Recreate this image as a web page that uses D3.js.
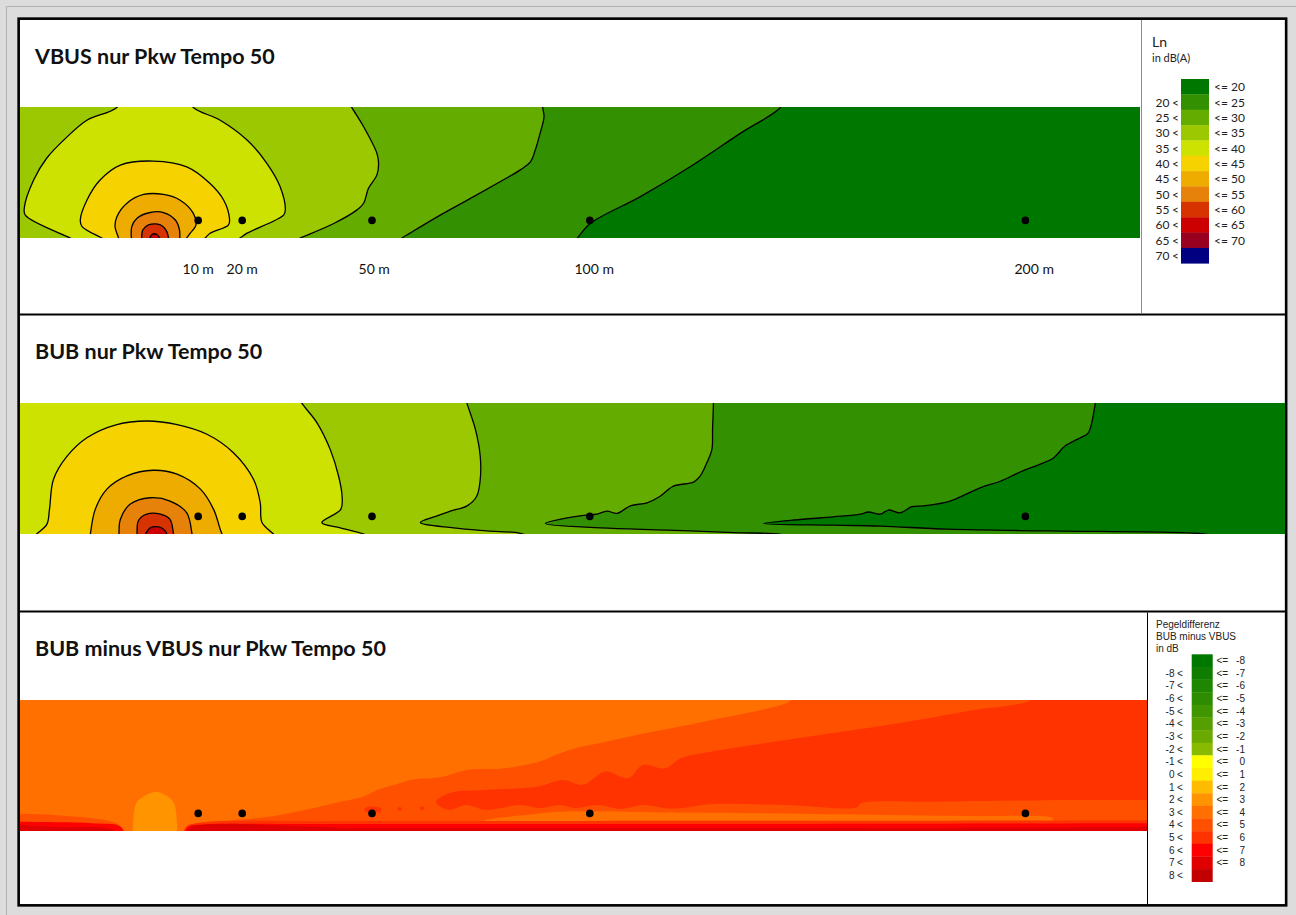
<!DOCTYPE html>
<html>
<head>
<meta charset="utf-8">
<script src="https://cdn.jsdelivr.net/npm/d3@7"></script>
<style>
  body { margin: 0; background: #dcdcdc; }
  svg { display: block; }
</style>
</head>
<body>
<svg id="chart" width="1296" height="915"></svg>
<script>
// ---- data: distances and heights in metres, levels in dB ----
const receivers = [10, 20, 49.5, 99, 198];
const receiverHeight = 4;
const distLabels = [10, 20, 50, 100, 200];

const lnThresholds = [20, 25, 30, 35, 40, 45, 50, 55, 60, 65, 70];
const lnColors = ["#007800", "#339000", "#64ad00", "#9bc800", "#cde200", "#f5d200",
                  "#eeab00", "#e6820a", "#d73300", "#cc0000", "#990020", "#000080"];

const diffThresholds = [-8, -7, -6, -5, -4, -3, -2, -1, 0, 1, 2, 3, 4, 5, 6, 7, 8];
const diffColors = ["#007800", "#0f7d00", "#1e8600", "#2d8c00", "#409600", "#55a000",
                    "#6aaa00", "#88bb00", "#ffff00", "#ffee00", "#ffbb00", "#ff9400",
                    "#ff7000", "#ff5000", "#ff3300", "#ff0000", "#e00000", "#c30000"];

// contour lines (level, [distance, height])
const vbusContours = [
  {level: 20, pts: [[142.5,31],[142.3,29.7],[133.2,23.8],[121.8,16.2],[110.5,9.4],[99.1,3.3],[96.2,0],[95.3,-1]]},
  {level: 25, pts: [[88.3,31],[88.3,29.7],[88.6,27.6],[87.7,23.8],[86.6,20],[85.5,17.3],[83.2,15.5],[78.6,12.8],[72.6,9.4],[65,5.2],[56.3,0],[54.6,-1]]},
  {level: 30, pts: [[44.2,31],[44.9,29.7],[47.6,25.3],[50.6,19.3],[51,17],[50.6,14.3],[48.7,11.3],[47.6,7.9],[46.1,6.4],[40.8,3.3],[33.2,0],[30.9,-1]]},
  {level: 35, pts: [[-17.1,-1],[-19.1,0],[-29.3,5.2],[-29.5,7.0],[-27.4,13.2],[-24.4,18.2],[-19.8,23.0],[-15.3,26.8],[-8.5,29.7],[-6,34],[6,34],[8.9,29.7],[15,26.8],[21.1,22.3],[25.6,17],[28.6,11.7],[29.8,6.4],[29.4,5.2],[21.1,1.1],[19.5,0],[18,-1]]},
  {level: 40, pts: [[-10.2,-1],[-11.9,0],[-16.4,2.6],[-16.8,4.1],[-15.3,8.6],[-12.3,13.2],[-7.7,16.6],[-0.2,17.5],[7.4,16.2],[12.7,12.4],[15.8,8.6],[17.1,4.5],[16.9,3.0],[12.7,1.1],[11.6,0],[10.6,-1]]},
  {level: 45, pts: [[-7.8,-1],[-8.1,0],[-8.9,2.6],[-8.5,4.8],[-6.2,7.9],[-2.4,9.9],[2.1,9.9],[5.9,8.6],[8.9,5.6],[9.5,3.0],[8.2,1.1],[7.4,0],[6.7,-1]]},
  {level: 50, pts: [[-5.1,-1],[-5.1,2.6],[-3.9,4.5],[-0.9,5.8],[2.1,5.8],[4.8,4.1],[5.75,1.8],[5.75,-1]]},
  {level: 55, pts: [[-2.8,-1],[-2.6,1.8],[-1.3,3.0],[1.4,3.0],[2.9,1.4],[3.3,-1]]},
  {level: 60, pts: [[-1.3,-1],[-0.5,0.8],[0.6,0.8],[1.75,-1]]}
];

// contour lines
const bubContours = [
  {level: 20, pts: [[214.2,31],[213.9,29.7],[212.3,23.0],[210.5,21.9],[207,20],[204.4,17.3],[202.1,16.2],[196.8,14.1],[192.3,12],[187.7,10.5],[180.9,7.5],[174.8,6.4],[172.2,6.2],[169.5,4.8],[166.9,5.45],[165,4.5],[162.3,5],[160.5,4.5],[154.4,3.9],[146.8,3.3],[138.5,2.4],[154.4,2.0],[165,1.8],[180.2,1.1],[202.9,0.7],[233.2,0.3],[239.25,-0.1],[242,-1]]},
  {level: 25, pts: [[127.1,31],[127.1,29.7],[126.9,23.8],[126.75,19.25],[125.6,16.2],[124.1,13.2],[122.6,11.8],[118,10.9],[115,8.6],[112,7.1],[108.2,6.4],[105.2,4.7],[102.9,5.2],[100.6,4.5],[97.6,4.25],[93,3.5],[88.9,2.4],[101.4,1.4],[116.5,0.9],[131.7,0.3],[142.3,-0.1],[145,-1]]},
  {level: 30, pts: [[70.8,31],[71.1,29.7],[73,23.8],[74.1,17.7],[74.1,12.4],[73.3,8.6],[71.1,6.4],[67.3,5.2],[64.3,4.1],[60.5,2.6],[68,1.4],[75.6,0.7],[83.2,0.15],[86,-1]]},
  {level: 35, pts: [[33,31],[33.6,29.7],[37,25.3],[40,19.25],[41.9,13.2],[42.7,8.6],[42.4,5.6],[38.1,2.6],[42.3,1.4],[47.6,0],[50,-1]]},
  {level: 40, pts: [[-27.5,-1],[-26.7,0],[-24.4,2.2],[-23.8,5.6],[-22.9,12.4],[-19.8,17.7],[-15.3,21.9],[-8.5,24.9],[-1.7,25.7],[5.2,24.9],[12,22.7],[18,18.5],[22.6,12.4],[24.1,7.1],[24.5,2.6],[27.1,0],[28,-1]]},
  {level: 45, pts: [[-14.6,-1],[-14.5,0],[-13.4,5.6],[-10.75,10.2],[-6.2,13.2],[-0.2,14.5],[5.2,13.6],[10.5,10.2],[13.5,5.6],[15,1.1],[15.4,0],[15.7,-1]]},
  {level: 50, pts: [[-8,-1],[-8,0],[-7.7,3.3],[-5.5,6.75],[-0.9,8.25],[3.6,7.5],[7.4,4.8],[8.6,0],[8.8,-1]]},
  {level: 55, pts: [[-3.9,-1],[-3.9,0],[-3.6,3.0],[-1.7,4.5],[1.4,4.5],[3.6,3.3],[4.4,0],[4.6,-1]]},
  {level: 60, pts: [[-2.5,-1],[-2,0],[-0.9,1.4],[1.0,1.6],[2.5,0.7],[3.1,-1]]}
];

// difference areas (lower bound of band, outline), painted in this order
const diffBase = 3;
const diffAreas = [
  {low: 4, pts: [[144.8,31],[144.8,29.8],[126.5,25.2],[109.4,21.8],[100.8,19.9],[96.8,19.1],[92.3,17.7],[87.25,15.7],[79.1,14.2],[71,13.9],[65.3,12.3],[58.8,11.7],[55.6,10.8],[50.7,9.3],[47.5,7.8],[42.6,6.7],[36.1,5.2],[26.4,3.3],[18.2,2.5],[8.5,1.4],[7.3,0],[7.3,-1],[260,-1],[260,31]]},
  {low: 4, pts: [[-40,3.9],[-30.5,3.9],[-22.3,3.6],[-14.2,2.9],[-8.5,1.75],[-6.9,0],[-6.9,-1],[-40,-1]]},
  {low: 6, pts: [[-40,2.1],[-30.5,2.1],[-14.2,1.75],[-7.7,1.0],[-6.9,-1],[-40,-1]]},
  {low: 7, pts: [[-40,0.8],[-20,0.8],[-10,0.5],[-8,-1],[-40,-1]]},
  {low: 5, pts: [[199.1,31],[199.1,29.8],[186.25,27.5],[169.2,24.5],[143.5,20.7],[126.5,18],[119.6,16.5],[116.2,14.25],[111.1,15],[107.7,12.0],[102.5,13.5],[97.4,10.5],[92.9,11.6],[87.25,10.1],[75.1,9.3],[67,8.6],[64.1,6.8],[64.5,5.9],[67,4.8],[71,5.9],[75.1,4.8],[78.6,5.2],[83.2,5.9],[87.7,5.2],[92.3,5.9],[95.7,5.2],[100.8,5.9],[106,5.0],[111.1,5.9],[116.2,5.2],[119.5,5.2],[126.5,6.1],[143.5,5.9],[159.8,5.4],[160.6,6.3],[177.7,6.65],[203.3,7.0],[225.8,7.0],[260,7.0],[260,31]]},
  {low: 5, pts: [[47.9,5.2],[49.5,5.6],[51.5,5.2],[51.5,4.5],[49.5,4.2],[47.9,4.5]]},
  {low: 5, pts: [[55.4,5.3],[56.2,5.3],[56.2,4.7],[55.4,4.7]]},
  {low: 5, pts: [[60.5,5.5],[61.3,5.5],[61.3,4.9],[60.5,4.9]]},
  {low: 3, pts: [[75.5,2.5],[83.2,3.5],[92.3,4.4],[117.9,4.2],[143.5,4.0],[169.2,3.6],[186.25,3.4],[204.2,2.9],[204.2,2.3],[177.7,2.2],[134.9,2.1],[92.3,2.1],[75.1,2.15]]},
  {low: 5, pts: [[7.3,1.0],[11.75,2.0],[40,2.25],[100,2.3],[180,2.35],[225.8,2.45],[260,2.45],[260,-1],[7,-1]]},
  {low: 6, pts: [[7.6,0.9],[12.5,1.5],[40,1.6],[100,1.6],[180,1.65],[225.8,1.75],[260,1.75],[260,-1],[7.3,-1]]},
  {low: 7, pts: [[8,0.6],[50,0.65],[150,0.7],[225.8,0.85],[260,0.85],[260,-1],[8,-1]]},
  {low: 2, pts: [[-4.9,-1],[-4.9,0],[-4.1,6.3],[-2.5,7.8],[0.2,8.9],[2.8,8.0],[4.5,6.3],[5.25,0],[5.25,-1]]}
];

// ---- drawing ----
const svg = d3.select("#chart");
const x = d3.scaleLinear().domain([-30.5, 257]).range([20, 1285]);
const H = 29.8;

// page frame
svg.append("rect").attr("x", 18.65).attr("y", 18.65).attr("width", 1267.5).attr("height", 886.7)
  .attr("fill", "#fff").attr("stroke", "#000").attr("stroke-width", 2.6);
svg.append("path").attr("d", "M6.5,915V6.5H1296").attr("fill", "none").attr("stroke", "#b0b0b0");

const panels = [
  {title: "VBUS nur Pkw Tempo 50", baseline: 63.5, top: 107, bottom: 238, right: 1140, contours: vbusContours},
  {title: "BUB nur Pkw Tempo 50", baseline: 359, top: 403, bottom: 534, right: 1285, contours: bubContours},
  {title: "BUB minus VBUS nur Pkw Tempo 50", baseline: 655.5, top: 700, bottom: 831, right: 1147, areas: diffAreas}
];

panels.forEach((p, i) => {
  const y = d3.scaleLinear().domain([0, H]).range([p.bottom, p.top]);
  svg.append("clipPath").attr("id", "clip" + i)
    .append("rect").attr("x", 20).attr("y", p.top)
    .attr("width", p.right - 20).attr("height", p.bottom - p.top);
  const g = svg.append("g").attr("clip-path", `url(#clip${i})`);

  if (p.contours) {
    g.append("rect").attr("x", 20).attr("y", p.top).attr("width", p.right - 20)
      .attr("height", p.bottom - p.top).attr("fill", lnColors[0]);
    const line = d3.line().x(d => x(d[0])).y(d => y(d[1])).curve(d3.curveCatmullRom.alpha(0.5));
    const paths = p.contours.map(c => {
      let d = line(c.pts);
      // lines that start at the top edge enclose the left part of the section
      if (c.pts[0][1] > H) d += `L${x(-40)},${y(-1)}L${x(-40)},${y(32)}`;
      return {c, d: d + "Z", stroke: line(c.pts)};
    });
    g.selectAll("path.band").data(paths).join("path").attr("class", "band")
      .attr("d", o => o.d).attr("fill", o => lnColors[lnThresholds.indexOf(o.c.level) + 1]);
    g.selectAll("path.iso").data(paths).join("path").attr("class", "iso")
      .attr("d", o => o.stroke).attr("fill", "none").attr("stroke", "#000").attr("stroke-width", 1.3);
  } else {
    g.append("rect").attr("x", 20).attr("y", p.top).attr("width", p.right - 20)
      .attr("height", p.bottom - p.top).attr("fill", diffColors[diffThresholds.indexOf(diffBase) + 1]);
    const area = d3.line().x(d => x(d[0])).y(d => y(d[1])).curve(d3.curveCatmullRomClosed.alpha(0.5));
    g.selectAll("path.band").data(p.areas).join("path").attr("class", "band")
      .attr("d", a => area(a.pts)).attr("fill", a => diffColors[diffThresholds.indexOf(a.low) + 1]);
  }

  // receiver points
  svg.append("g").selectAll("circle").data(receivers).join("circle")
    .attr("cx", d => x(d)).attr("cy", y(receiverHeight)).attr("r", 3.8).attr("fill", "#000");

  svg.append("text").attr("x", 35).attr("y", p.baseline).text(p.title)
    .attr("font-family", "Lato, 'Open Sans', sans-serif").attr("font-weight", "bold")
    .attr("font-size", 21.5).attr("fill", "#111");
});

// distance labels under the first section
svg.append("g").selectAll("text").data(distLabels).join("text")
  .attr("x", d => x(d)).attr("y", 273.5).attr("text-anchor", "middle")
  .attr("font-family", "Lato, sans-serif").attr("font-size", 14).attr("fill", "#111")
  .text(d => `${d} m`);

// separators
svg.append("line").attr("x1", 18).attr("x2", 1287).attr("y1", 314.5).attr("y2", 314.5)
  .attr("stroke", "#000").attr("stroke-width", 2);
svg.append("line").attr("x1", 18).attr("x2", 1287).attr("y1", 611.5).attr("y2", 611.5)
  .attr("stroke", "#000").attr("stroke-width", 2);
svg.append("line").attr("x1", 1141.5).attr("x2", 1141.5).attr("y1", 20).attr("y2", 313.5)
  .attr("stroke", "#8c8c8c").attr("stroke-width", 1);
svg.append("line").attr("x1", 1147.5).attr("x2", 1147.5).attr("y1", 612.5).attr("y2", 904)
  .attr("stroke", "#000").attr("stroke-width", 1);

// legend 1: Ln
const leg1 = svg.append("g").attr("font-family", "Lato, sans-serif").attr("fill", "#222");
leg1.append("text").attr("x", 1152).attr("y", 46.5).attr("font-size", 14).text("Ln");
leg1.append("text").attr("x", 1152).attr("y", 62).attr("font-size", 11).text("in dB(A)");
const s1 = d3.scaleBand().domain(d3.range(lnColors.length)).range([79, 263.3]);
leg1.selectAll("rect").data(lnColors).join("rect")
  .attr("x", 1181).attr("y", (d, i) => s1(i)).attr("width", 28).attr("height", s1.bandwidth() + 0.3)
  .attr("fill", d => d);
lnThresholds.forEach((t, i) => {
  const yl = s1(i + 1) + s1.bandwidth() / 2 + 4.5;
  const yr = s1(i) + s1.bandwidth() / 2 + 4.5;
  leg1.append("text").attr("x", 1169.5).attr("y", yl).attr("text-anchor", "end").attr("font-size", 12).text(t);
  leg1.append("text").attr("x", 1172).attr("y", yl).attr("font-size", 12).text("<");
  leg1.append("text").attr("x", 1214).attr("y", yr).attr("font-size", 12).text("<=");
  leg1.append("text").attr("x", 1245).attr("y", yr).attr("text-anchor", "end").attr("font-size", 12).text(t);
});

// legend 2: level difference
const leg2 = svg.append("g").attr("font-family", "'Liberation Sans', Arial, sans-serif").attr("fill", "#222");
["Pegeldifferenz", "BUB minus VBUS", "in dB"].forEach((t, i) =>
  leg2.append("text").attr("x", 1156).attr("y", 627.5 + i * 12.2).attr("font-size", 10).text(t));
const s2 = d3.scaleBand().domain(d3.range(diffColors.length)).range([654.3, 881.7]);
leg2.selectAll("rect").data(diffColors).join("rect")
  .attr("x", 1191.7).attr("y", (d, i) => s2(i)).attr("width", 21).attr("height", s2.bandwidth() + 0.3)
  .attr("fill", d => d);
diffThresholds.forEach((t, i) => {
  const yl = s2(i + 1) + s2.bandwidth() / 2 + 3.6;
  const yr = s2(i) + s2.bandwidth() / 2 + 3.6;
  leg2.append("text").attr("x", 1174.5).attr("y", yl).attr("text-anchor", "end").attr("font-size", 10).text(t);
  leg2.append("text").attr("x", 1177).attr("y", yl).attr("font-size", 10).text("<");
  leg2.append("text").attr("x", 1216.5).attr("y", yr).attr("font-size", 10).text("<=");
  leg2.append("text").attr("x", 1245).attr("y", yr).attr("text-anchor", "end").attr("font-size", 10).text(t);
});
</script>
</body>
</html>
